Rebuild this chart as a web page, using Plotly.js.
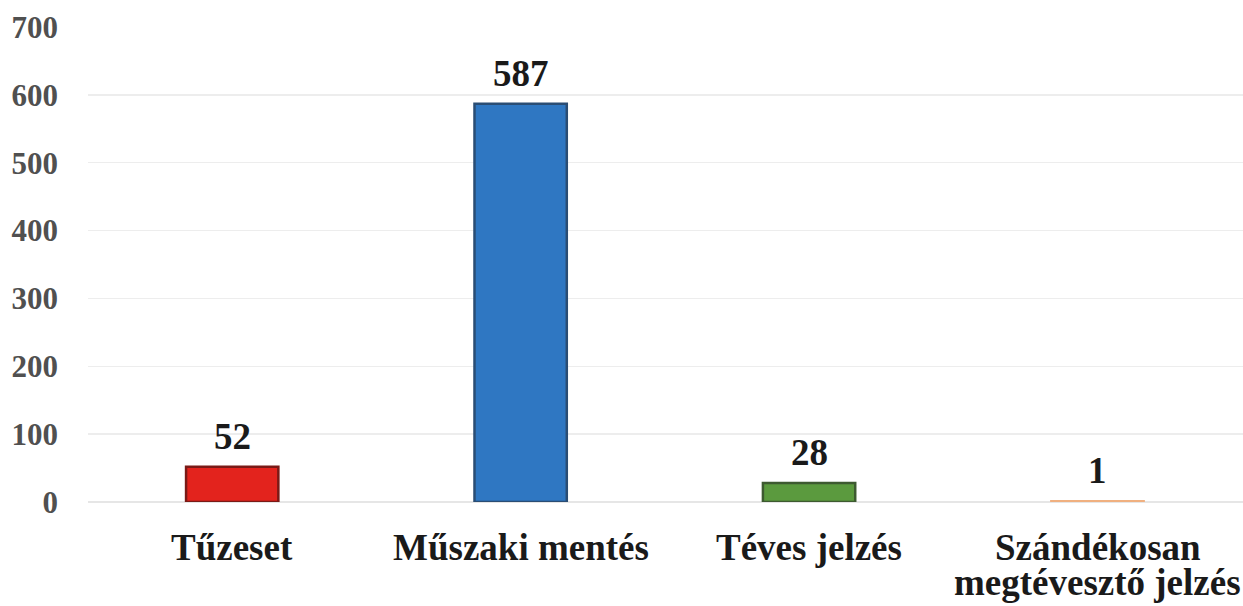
<!DOCTYPE html>
<html>
<head>
<meta charset="utf-8">
<script src="https://cdn.plot.ly/plotly-3.0.1.min.js"></script>
<style>html,body{margin:0;padding:0;background:#fff;}#chart{width:1243px;height:606px;}</style>
</head>
<body>
<div id="chart"></div>
<script>
var categories = ["Tűzeset", "Műszaki mentés", "Téves jelzés", "Szándékosan megtévesztő jelzés"];
var categoryLines = [["Tűzeset"], ["Műszaki mentés"], ["Téves jelzés"], ["Szándékosan", "megtévesztő jelzés"]];
var values = [52, 587, 28, 1];
var barColors = ["#e3231d", "#2f77c2", "#5b9a3e", "#f5a25a"];
var edgeColors = ["#7a1a16", "#2a4d74", "#3d5a30", "#f0b080"];
var yTicks = [0, 100, 200, 300, 400, 500, 600, 700];

var serif = "'Liberation Serif', 'Times New Roman', serif";

var trace = {
  type: "bar",
  x: categories,
  y: values,
  marker: { color: barColors, line: { color: edgeColors, width: 2.5 } },
  hoverinfo: "none"
};

var annotations = categories.map(function (c, i) {
  return {
    x: c, y: values[i], xref: "x", yref: "y",
    text: String(values[i]),
    showarrow: false, yanchor: "bottom", yshift: 8,
    font: { family: serif, size: 37, color: "#1a1a1a", weight: "bold" }
  };
});

// category labels, one annotation per line so the line spacing can be tight
categories.forEach(function (c, i) {
  categoryLines[i].forEach(function (line, j) {
    annotations.push({
      x: c, y: 0, xref: "x", yref: "y",
      text: line,
      showarrow: false, yanchor: "top", yshift: -23 - j * 35,
      font: { family: serif, size: 37, color: "#1a1a1a", weight: "bold" }
    });
  });
});

var layout = {
  width: 1243, height: 606,
  margin: { l: 88, r: 0, t: 27, b: 104 },
  paper_bgcolor: "#ffffff",
  plot_bgcolor: "#ffffff",
  bargap: 0.68,
  showlegend: false,
  xaxis: {
    type: "category",
    showticklabels: false,
    ticks: "", showline: false, showgrid: false
  },
  yaxis: {
    range: [0, 700],
    tickvals: yTicks,
    ticktext: yTicks.map(String),
    tickfont: { family: serif, size: 31, color: "#505050", weight: "bold" },
    showgrid: true, gridcolor: "#ededed", gridwidth: 1.5,
    zeroline: true, zerolinecolor: "#e6e6e6", zerolinewidth: 1.5,
    showline: false, ticks: "",
    ticklabelstandoff: 29
  },
  annotations: annotations
};

Plotly.newPlot("chart", [trace], layout, { displayModeBar: false, staticPlot: true });
</script>
</body>
</html>
